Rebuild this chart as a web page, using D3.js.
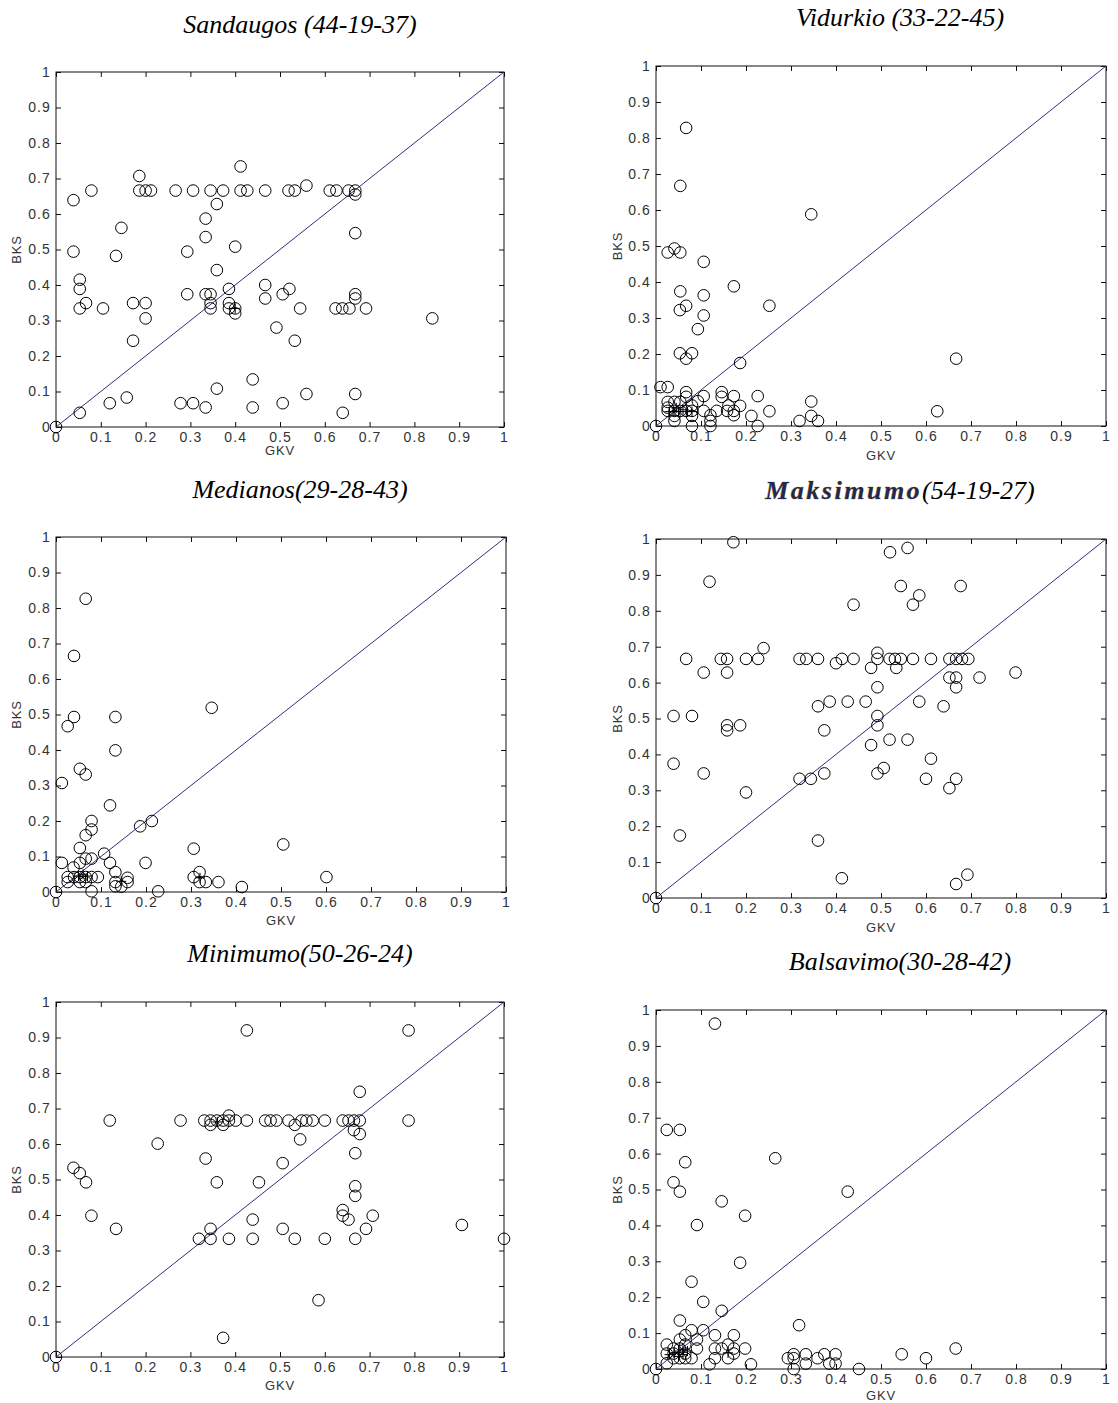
<!DOCTYPE html>
<html>
<head>
<meta charset="utf-8">
<script src="https://cdn.jsdelivr.net/npm/d3@7"></script>
<style>
  body { margin: 0; background: #fff; }
  svg { display: block; }
</style>
</head>
<body>
<div id="chart"></div>
<script>
// Datos: pares [GKV, BKS] por panel
const tickValues = [0, 0.1, 0.2, 0.3, 0.4, 0.5, 0.6, 0.7, 0.8, 0.9, 1];
const tickLabels = ["0", "0.1", "0.2", "0.3", "0.4", "0.5", "0.6", "0.7", "0.8", "0.9", "1"];
const diagonal = [[0, 0], [1, 1]];

const titles = ["Sandaugos (44-19-37)", "Vidurkio (33-22-45)", "Medianos(29-28-43)",
                "Maksimumo(54-19-27)", "Minimumo(50-26-24)", "Balsavimo(30-28-42)"];

const sandaugos = [[0,0],[0.053,0.040],[0.039,0.639],[0.079,0.666],[0.039,0.494],[0.053,0.415],[0.053,0.389],[0.053,0.334],[0.067,0.349],[0.105,0.334],
  [0.120,0.067],[0.134,0.482],[0.146,0.561],[0.158,0.083],[0.172,0.349],[0.172,0.243],[0.186,0.707],[0.186,0.666],[0.200,0.666],[0.212,0.666],
  [0.200,0.349],[0.200,0.306],[0.267,0.666],[0.278,0.067],[0.293,0.494],[0.293,0.374],[0.306,0.666],[0.306,0.067],[0.334,0.587],[0.334,0.535],
  [0.334,0.374],[0.334,0.055],[0.345,0.666],[0.345,0.374],[0.345,0.349],[0.345,0.334],[0.359,0.628],[0.359,0.442],[0.359,0.108],[0.373,0.666],
  [0.386,0.389],[0.386,0.349],[0.386,0.334],[0.400,0.334],[0.400,0.320],[0.400,0.508],[0.412,0.734],[0.412,0.666],[0.427,0.666],[0.439,0.134],
  [0.439,0.055],[0.467,0.666],[0.467,0.400],[0.467,0.362],[0.492,0.280],[0.506,0.374],[0.506,0.067],[0.519,0.666],[0.521,0.389],[0.533,0.666],
  [0.533,0.243],[0.545,0.334],[0.559,0.680],[0.559,0.093],[0.611,0.666],[0.626,0.666],[0.624,0.334],[0.639,0.334],[0.655,0.334],[0.653,0.666],
  [0.640,0.040],[0.668,0.666],[0.668,0.655],[0.668,0.546],[0.668,0.374],[0.668,0.362],[0.668,0.093],[0.692,0.334],[0.840,0.306]];
const sandaugosPlus = [[0.400,0.334]];

const vidurkio = [[0,0],[0.067,0.828],[0.054,0.667],[0.345,0.588],[0.026,0.482],[0.041,0.493],[0.054,0.482],[0.106,0.456],[0.173,0.388],[0.054,0.374],
  [0.106,0.363],[0.067,0.334],[0.252,0.334],[0.053,0.322],[0.106,0.307],[0.093,0.269],[0.053,0.202],[0.080,0.202],[0.067,0.187],[0.187,0.175],
  [0.667,0.187],[0.010,0.108],[0.026,0.108],[0.067,0.094],[0.067,0.081],[0.106,0.083],[0.146,0.094],[0.146,0.081],[0.173,0.083],[0.226,0.083],
  [0.093,0.069],[0.345,0.068],[0.026,0.067],[0.041,0.067],[0.054,0.067],[0.026,0.051],[0.080,0.057],[0.161,0.057],[0.187,0.056],[0.026,0.042],
  [0.041,0.042],[0.054,0.042],[0.067,0.042],[0.080,0.042],[0.106,0.042],[0.135,0.042],[0.158,0.042],[0.173,0.042],[0.252,0.041],[0.625,0.041],
  [0.041,0.028],[0.080,0.028],[0.121,0.030],[0.173,0.030],[0.212,0.028],[0.345,0.028],[0.041,0.014],[0.121,0.014],[0.319,0.014],[0.360,0.014],
  [0.080,0.000],[0.121,0.000],[0.226,0.000]];
const vidurkioPlus = [[0.030,0.040],[0.040,0.040],[0.050,0.040],[0.060,0.045],[0.045,0.050],[0.070,0.040],[0.080,0.040]];

const medianos = [[0,0],[0.066,0.826],[0.040,0.665],[0.346,0.519],[0.040,0.493],[0.132,0.493],[0.026,0.467],[0.132,0.399],[0.053,0.347],[0.066,0.331],
  [0.013,0.307],[0.120,0.244],[0.079,0.200],[0.213,0.200],[0.079,0.176],[0.187,0.185],[0.066,0.160],[0.053,0.124],[0.306,0.122],[0.505,0.134],
  [0.107,0.108],[0.013,0.082],[0.120,0.082],[0.199,0.082],[0.053,0.082],[0.079,0.094],[0.039,0.069],[0.066,0.094],[0.132,0.056],[0.319,0.056],
  [0.306,0.042],[0.601,0.042],[0.026,0.042],[0.040,0.042],[0.053,0.042],[0.066,0.042],[0.079,0.042],[0.093,0.042],[0.026,0.028],[0.053,0.028],
  [0.066,0.028],[0.159,0.040],[0.159,0.028],[0.132,0.028],[0.319,0.028],[0.333,0.028],[0.361,0.028],[0.132,0.016],[0.413,0.014],[0.079,0.002],
  [0.227,0.002],[0.145,0.015]];
const medianosPlus = [[0.050,0.045],[0.060,0.050],[0.070,0.045],[0.145,0.030],[0.320,0.040]];

const maksimumo = [[0,0],[0.172,0.991],[0.520,0.963],[0.559,0.975],[0.119,0.881],[0.544,0.869],[0.677,0.869],[0.585,0.843],[0.571,0.817],[0.439,0.817],
  [0.239,0.696],[0.492,0.683],[0.067,0.666],[0.144,0.666],[0.158,0.666],[0.200,0.666],[0.227,0.666],[0.319,0.666],[0.334,0.666],[0.360,0.666],
  [0.413,0.666],[0.439,0.666],[0.492,0.666],[0.519,0.666],[0.531,0.666],[0.544,0.666],[0.571,0.666],[0.611,0.666],[0.652,0.666],[0.667,0.666],
  [0.680,0.666],[0.694,0.666],[0.400,0.654],[0.478,0.641],[0.534,0.641],[0.106,0.628],[0.158,0.628],[0.799,0.628],[0.652,0.614],[0.667,0.614],
  [0.719,0.614],[0.492,0.587],[0.667,0.587],[0.386,0.547],[0.426,0.547],[0.466,0.547],[0.585,0.547],[0.360,0.534],[0.639,0.534],[0.039,0.507],
  [0.080,0.507],[0.492,0.507],[0.158,0.481],[0.187,0.481],[0.492,0.481],[0.158,0.467],[0.374,0.467],[0.519,0.441],[0.559,0.441],[0.478,0.426],
  [0.611,0.388],[0.039,0.374],[0.506,0.362],[0.106,0.347],[0.374,0.347],[0.492,0.347],[0.319,0.332],[0.344,0.332],[0.600,0.332],[0.667,0.332],
  [0.652,0.306],[0.200,0.294],[0.053,0.174],[0.360,0.160],[0.413,0.055],[0.692,0.065],[0.667,0.039]];
const maksimumoPlus = [];

const minimumo = [[0,0],[0.426,0.920],[0.787,0.920],[0.678,0.747],[0.120,0.666],[0.278,0.666],[0.331,0.666],[0.345,0.666],[0.359,0.666],[0.373,0.666],
  [0.386,0.666],[0.401,0.666],[0.426,0.666],[0.467,0.666],[0.479,0.666],[0.492,0.666],[0.519,0.666],[0.548,0.666],[0.559,0.666],[0.573,0.666],
  [0.600,0.666],[0.640,0.666],[0.653,0.666],[0.665,0.666],[0.678,0.666],[0.787,0.666],[0.386,0.680],[0.345,0.654],[0.373,0.654],[0.533,0.654],
  [0.665,0.639],[0.678,0.628],[0.545,0.613],[0.227,0.601],[0.668,0.574],[0.334,0.559],[0.506,0.546],[0.039,0.533],[0.053,0.518],[0.067,0.492],
  [0.359,0.492],[0.453,0.492],[0.668,0.481],[0.668,0.454],[0.640,0.414],[0.079,0.398],[0.640,0.398],[0.707,0.398],[0.653,0.387],[0.439,0.387],
  [0.906,0.372],[0.134,0.361],[0.345,0.361],[0.506,0.361],[0.692,0.361],[0.319,0.333],[0.345,0.333],[0.386,0.333],[0.439,0.333],[0.533,0.333],
  [0.600,0.333],[0.668,0.333],[1.000,0.333],[0.586,0.160],[0.373,0.054]];
const minimumoPlus = [[0.360,0.662]];

const balsavimo = [[0,0],[0.131,0.962],[0.024,0.666],[0.053,0.666],[0.265,0.587],[0.065,0.576],[0.039,0.520],[0.053,0.494],[0.426,0.494],[0.146,0.467],
  [0.198,0.427],[0.091,0.401],[0.187,0.296],[0.079,0.243],[0.105,0.187],[0.146,0.162],[0.053,0.135],[0.318,0.122],[0.079,0.108],[0.105,0.108],
  [0.065,0.094],[0.131,0.094],[0.173,0.094],[0.053,0.082],[0.091,0.082],[0.024,0.068],[0.160,0.068],[0.039,0.057],[0.091,0.057],[0.131,0.057],
  [0.146,0.057],[0.198,0.057],[0.173,0.057],[0.666,0.057],[0.024,0.043],[0.065,0.043],[0.173,0.043],[0.306,0.041],[0.333,0.041],[0.374,0.041],
  [0.399,0.041],[0.546,0.041],[0.039,0.030],[0.079,0.030],[0.131,0.030],[0.160,0.030],[0.293,0.030],[0.306,0.030],[0.359,0.030],[0.600,0.030],
  [0.024,0.016],[0.119,0.013],[0.211,0.013],[0.333,0.015],[0.385,0.015],[0.399,0.015],[0.306,0.000],[0.451,0.000],[0.053,0.057],[0.065,0.068],
  [0.053,0.030],[0.065,0.030],[0.039,0.043]];
const balsavimoPlus = [[0.030,0.040],[0.040,0.045],[0.050,0.050],[0.060,0.055],[0.070,0.050],[0.050,0.035],[0.060,0.040],[0.160,0.045]];

// Posición de cada panel en la página (cuadro del eje en píxeles)
const paneles = [
  { titulo: titles[0], puntos: sandaugos, cruces: sandaugosPlus, left: 56,  right: 504,  top: 72,   bottom: 427,  tx: 300, ty: 33,  gkv: 28, bks: 16 },
  { titulo: titles[1], puntos: vidurkio,  cruces: vidurkioPlus,  left: 656, right: 1106, top: 66,   bottom: 426,  tx: 900, ty: 26,  gkv: 34, bks: 617 },
  { titulo: titles[2], puntos: medianos,  cruces: medianosPlus,  left: 56,  right: 506,  top: 537,  bottom: 892,  tx: 300, ty: 498, gkv: 33, bks: 16 },
  { titulo: titles[3], puntos: maksimumo, cruces: maksimumoPlus, left: 656, right: 1106, top: 539,  bottom: 898,  tx: 900, ty: 499, gkv: 34, bks: 617, arte: true },
  { titulo: titles[4], puntos: minimumo,  cruces: minimumoPlus,  left: 56,  right: 504,  top: 1002, bottom: 1357, tx: 300, ty: 962, gkv: 33, bks: 16 },
  { titulo: titles[5], puntos: balsavimo, cruces: balsavimoPlus, left: 656, right: 1106, top: 1010, bottom: 1369, tx: 900, ty: 970, gkv: 31, bks: 617 }
];

const ancho = 1118, alto = 1403;
const svg = d3.select("#chart").append("svg")
  .attr("width", ancho).attr("height", alto)
  .style("background", "#fff");

const fuenteEjes = "'Liberation Sans', Arial, sans-serif";
const fuenteTitulo = "'Liberation Serif', 'Times New Roman', serif";

function dibujarPanel(p) {
  const g = svg.append("g");
  const x = d3.scaleLinear().domain([0, 1]).range([p.left, p.right]);
  const y = d3.scaleLinear().domain([0, 1]).range([p.bottom, p.top]);
  const fmt = (d, i) => tickLabels[i];

  // Ejes estilo MATLAB: ticks hacia dentro en los cuatro lados
  g.append("g").attr("transform", `translate(0,${p.bottom})`)
    .call(d3.axisBottom(x).tickValues(tickValues).tickFormat(fmt).tickSizeInner(-5).tickSizeOuter(0).tickPadding(5));
  g.append("g").attr("transform", `translate(${p.left},0)`)
    .call(d3.axisLeft(y).tickValues(tickValues).tickFormat(fmt).tickSizeInner(-5).tickSizeOuter(0).tickPadding(5));
  g.append("g").attr("transform", `translate(0,${p.top})`)
    .call(d3.axisTop(x).tickValues(tickValues).tickFormat("").tickSizeInner(-5).tickSizeOuter(0));
  g.append("g").attr("transform", `translate(${p.right},0)`)
    .call(d3.axisRight(y).tickValues(tickValues).tickFormat("").tickSizeInner(-5).tickSizeOuter(0));

  g.selectAll(".domain").remove();
  g.selectAll(".tick line").attr("stroke", "#111");
  g.selectAll(".tick text")
    .attr("fill", "#333")
    .style("font-family", fuenteEjes)
    .style("font-size", "14px")
    .style("letter-spacing", "1.1px");

  g.append("rect")
    .attr("x", p.left).attr("y", p.top)
    .attr("width", p.right - p.left).attr("height", p.bottom - p.top)
    .attr("fill", "none").attr("stroke", "#111").attr("stroke-width", 1);

  // Línea diagonal y = x
  g.append("path")
    .datum(diagonal)
    .attr("d", d3.line().x(d => x(d[0])).y(d => y(d[1])))
    .attr("stroke", "#30307a").attr("stroke-width", 1).attr("fill", "none");

  // Marcadores circulares
  g.selectAll("circle.pt").data(p.puntos).enter().append("circle")
    .attr("class", "pt")
    .attr("cx", d => x(d[0])).attr("cy", d => y(d[1]))
    .attr("r", 5.8)
    .attr("fill", "none").attr("stroke", "#000").attr("stroke-width", 1);

  // Marcadores '+'
  g.selectAll("path.cruz").data(p.cruces).enter().append("path")
    .attr("class", "cruz")
    .attr("d", d => {
      const cx = x(d[0]), cy = y(d[1]);
      return `M${cx - 5},${cy}H${cx + 5}M${cx},${cy - 5}V${cy + 5}`;
    })
    .attr("stroke", "#000").attr("stroke-width", 1).attr("fill", "none");

  // Etiquetas de ejes
  g.append("text")
    .attr("x", (p.left + p.right) / 2).attr("y", p.bottom + p.gkv)
    .attr("text-anchor", "middle")
    .attr("fill", "#333")
    .style("font-family", fuenteEjes).style("font-size", "13px").style("letter-spacing", "0.8px")
    .text("GKV");
  g.append("text")
    .attr("transform", `translate(${p.bks},${(p.top + p.bottom) / 2}) rotate(-90)`)
    .attr("text-anchor", "middle")
    .attr("dy", "0.35em")
    .attr("fill", "#333")
    .style("font-family", fuenteEjes).style("font-size", "13px").style("letter-spacing", "0.8px")
    .text("BKS");

  // Título
  const t = g.append("text")
    .attr("x", p.tx).attr("y", p.ty)
    .attr("text-anchor", "middle")
    .style("font-family", fuenteTitulo)
    .style("font-style", "italic")
    .style("font-size", "26px")
    .attr("fill", "#000");
  if (p.arte) {
    const corte = p.titulo.indexOf("(");
    t.append("tspan")
      .text(p.titulo.slice(0, corte))
      .style("font-weight", "bold")
      .style("letter-spacing", "2.5px")
      .attr("fill", "#1c2a55")
      .attr("stroke", "#e0962e")
      .attr("stroke-width", 0.6)
      .style("paint-order", "stroke");
    t.append("tspan").text(p.titulo.slice(corte));
  } else {
    t.text(p.titulo);
  }
}

paneles.forEach(dibujarPanel);
</script>
</body>
</html>
